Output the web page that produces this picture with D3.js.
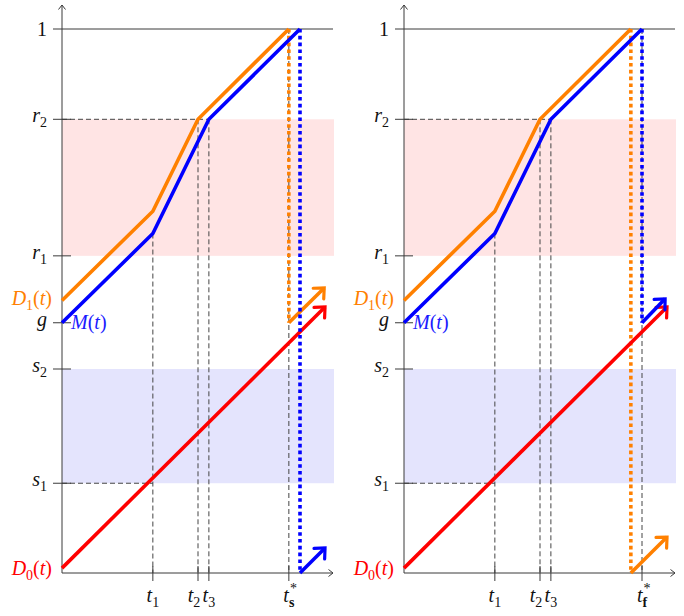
<!DOCTYPE html>
<html>
<head>
<meta charset="utf-8">
<script src="https://cdn.jsdelivr.net/npm/d3@7"></script>
<style>
body { margin: 0; background: #fff; }
svg { display: block; }
</style>
</head>
<body>
<div id="chart"></div>
<script>
// levels on the vertical axis (fraction of 1)
var levelNames = ["1", "r2", "r1", "g", "s2", "s1"];
var levelValues = [1, 0.834, 0.583, 0.46, 0.375, 0.165];

// switch times on the horizontal axis
var timeNames = ["t1", "t2", "t3"];
var timeValues = [0.167, 0.25, 0.27];
var dropTimes = [0.417, 0.4375]; // D1 reaches 1, M reaches 1

// the three curves, [t, value]
var d1Points = [[0, 0.501], [0.167, 0.665], [0.25, 0.834], [0.417, 1]];
var mPoints = [[0, 0.46], [0.167, 0.624], [0.27, 0.834], [0.4375, 1]];
var d0Points = [[0, 0.009], [0.4835, 0.489]];

// restart segments after the drop, "s" panel and "f" panel
var d1RestartS = [[0.417, 0.46], [0.482, 0.524]];
var mRestartS = [[0.4375, 0], [0.4835, 0.046]];
var d1RestartF = [[0.417, 0], [0.4835, 0.066]];
var mRestartF = [[0.4375, 0.46], [0.48, 0.504]];

var W = 684, H = 616;
var FS = 20;
var FONT = "Liberation Serif";
var orange = "#ff8000", blue = "#0000ff", red = "#ff0000";
var axisColor = "#3a3a3a";

var svg = d3.select("#chart").append("svg")
    .attr("width", W)
    .attr("height", H);

var x = d3.scaleLinear().domain([0, 0.5]).range([0, 272]);
var y = d3.scaleLinear().domain([0, 1]).range([544, 0]);

var line = d3.line()
    .x(function(d) { return x(d[0]); })
    .y(function(d) { return y(d[1]); });

function lv(name) { return levelValues[levelNames.indexOf(name)]; }

// math-like label: every piece is its own <text>, laid out side by side
function mathLabel(g, parts, px, py, anchor, color) {
    var lab = g.append("g");
    var cursor = 0;
    parts.forEach(function(p) {
        var small = p.k === "sub" || p.k === "subB" || p.k === "sup";
        var dy = (p.k === "sub" || p.k === "subB") ? 5 : (p.k === "sup" ? -9 : 0);
        var t = lab.append("text")
            .attr("x", cursor + (p.dx || 0))
            .attr("y", dy)
            .attr("fill", color)
            .attr("font-family", FONT)
            .attr("font-size", small ? Math.round(FS * 0.72) : FS)
            .attr("font-style", p.k === "i" ? "italic" : "normal")
            .attr("font-weight", p.k === "subB" ? "bold" : "normal")
            .text(p.t);
        if (!p.keep) cursor += t.node().getComputedTextLength() + (p.dx || 0);
    });
    var shift = anchor === "end" ? -cursor : (anchor === "middle" ? -cursor / 2 : 0);
    lab.attr("transform", "translate(" + (px + shift) + "," + py + ")");
}

function parseName(name) {
    if (name.length === 1) return [{t: name, k: /[0-9]/.test(name) ? "r" : "i"}];
    return [{t: name[0], k: "i"}, {t: name.slice(1), k: "sub"}];
}

// open arrow head at the end of a segment
function arrowHead(g, pts, color, len, width) {
    var a = pts[pts.length - 2], b = pts[pts.length - 1];
    var x0 = x(a[0]), y0 = y(a[1]), x1 = x(b[0]), y1 = y(b[1]);
    var ang = Math.atan2(y1 - y0, x1 - x0);
    var spread = 0.75;
    var p1 = [x1 - len * Math.cos(ang - spread), y1 - len * Math.sin(ang - spread)];
    var p2 = [x1 - len * Math.cos(ang + spread), y1 - len * Math.sin(ang + spread)];
    g.append("path")
        .attr("d", "M" + p1 + "L" + [x1, y1] + "L" + p2)
        .attr("fill", "none")
        .attr("stroke", color)
        .attr("stroke-width", width)
        .attr("stroke-linejoin", "miter")
        .attr("stroke-linecap", "round");
}

function curve(g, pts, color, dotted) {
    var p = g.append("path")
        .attr("d", line(pts))
        .attr("fill", "none")
        .attr("stroke", color)
        .attr("stroke-width", 3.6)
        .attr("stroke-linejoin", "miter");
    if (dotted) p.attr("stroke-dasharray", "3.6,3.2");
    return p;
}

function drawPanel(ox, starIndex, starSub, d1Restart, mRestart) {
    var g = svg.append("g").attr("transform", "translate(" + ox + ",29)");
    var xMax = x.range()[1];

    // bands
    g.append("rect")
        .attr("x", 0).attr("width", xMax)
        .attr("y", y(lv("r2"))).attr("height", y(lv("r1")) - y(lv("r2")))
        .attr("fill", "#ffe4e4");
    g.append("rect")
        .attr("x", 0).attr("width", xMax)
        .attr("y", y(lv("s2"))).attr("height", y(lv("s1")) - y(lv("s2")))
        .attr("fill", "#e4e4fd");

    // dashed guides
    var dash = g.append("g")
        .attr("stroke", "#444")
        .attr("stroke-width", 1)
        .attr("stroke-dasharray", "5,3")
        .attr("fill", "none");
    var tStar = dropTimes[starIndex];
    var guides = [
        [[0, lv("r2")], [timeValues[2], lv("r2")]],
        [[0, lv("s1")], [timeValues[0], lv("s1")]],
        [[timeValues[0], mPoints[1][1]], [timeValues[0], 0]],
        [[timeValues[1], lv("r2")], [timeValues[1], 0]],
        [[timeValues[2], lv("r2")], [timeValues[2], 0]],
        [[tStar, 1], [tStar, 0]]
    ];
    guides.forEach(function(s) { dash.append("path").attr("d", line(s)); });

    // axes
    var ax = g.append("g")
        .attr("stroke", axisColor)
        .attr("stroke-width", 1)
        .attr("fill", "none");
    ax.append("line").attr("x1", 0).attr("x2", 0).attr("y1", y(0)).attr("y2", -24);
    ax.append("path").attr("d", "M-3.5,-19.5L0,-24L3.5,-19.5");
    ax.append("line").attr("x1", 0).attr("x2", xMax - 1).attr("y1", y(0)).attr("y2", y(0));
    ax.append("path").attr("d", "M" + (xMax - 5.5) + "," + (y(0) - 3.5) + "L" + (xMax - 1) + "," + y(0) + "L" + (xMax - 5.5) + "," + (y(0) + 3.5));
    // line at level 1
    ax.append("line").attr("x1", -9).attr("x2", xMax - 1).attr("y1", y(1)).attr("y2", y(1));

    levelNames.forEach(function(n, i) {
        if (i > 0) {
            ax.append("line").attr("x1", -9).attr("x2", 9)
                .attr("y1", y(levelValues[i])).attr("y2", y(levelValues[i]));
        }
        mathLabel(g, parseName(n), -15, y(levelValues[i]) + (i === 0 ? 7 : 3), "end", "#111");
    });

    var tickTimes = timeValues.concat([tStar]);
    tickTimes.forEach(function(v) {
        ax.append("line").attr("x1", x(v)).attr("x2", x(v))
            .attr("y1", y(0) - 7).attr("y2", y(0) + 8);
    });
    var nudges = [0, -4, 0];
    timeNames.forEach(function(n, i) {
        mathLabel(g, parseName(n), x(timeValues[i]) + nudges[i], y(0) + 29, "middle", "#111");
    });
    // t* label, star above the bold subscript
    mathLabel(g, [{t: "t", k: "i"}, {t: "*", k: "sup", keep: true, dx: 1}, {t: starSub, k: "subB"}],
        x(tStar), y(0) + 29, "middle", "#111");

    // curve labels
    mathLabel(g, [{t: "D", k: "i"}, {t: "1", k: "sub"}, {t: "(", k: "r"}, {t: "t", k: "i"}, {t: ")", k: "r"}],
        -10, y(d1Points[0][1]) + 5, "end", orange);
    mathLabel(g, [{t: "M", k: "i"}, {t: "(", k: "r"}, {t: "t", k: "i"}, {t: ")", k: "r"}],
        9, y(mPoints[0][1]) + 6, "start", "#1a1aff");
    mathLabel(g, [{t: "D", k: "i"}, {t: "0", k: "sub"}, {t: "(", k: "r"}, {t: "t", k: "i"}, {t: ")", k: "r"}],
        -10, y(d0Points[0][1]) + 7, "end", red);

    // orange: D1
    curve(g, d1Points, orange, false);
    curve(g, [d1Points[d1Points.length - 1], d1Restart[0]], orange, true);
    curve(g, d1Restart, orange, false);
    arrowHead(g, d1Restart, orange, 11, 3.2);

    // red: D0
    curve(g, d0Points, red, false);
    arrowHead(g, d0Points, red, 11, 3.2);

    // blue: M
    curve(g, mPoints, blue, false);
    curve(g, [mPoints[mPoints.length - 1], mRestart[0]], blue, true);
    curve(g, mRestart, blue, false);
    arrowHead(g, mRestart, blue, 11, 3.2);
}

drawPanel(62, 0, "s", d1RestartS, mRestartS);
drawPanel(404, 1, "f", d1RestartF, mRestartF);
</script>
</body>
</html>
